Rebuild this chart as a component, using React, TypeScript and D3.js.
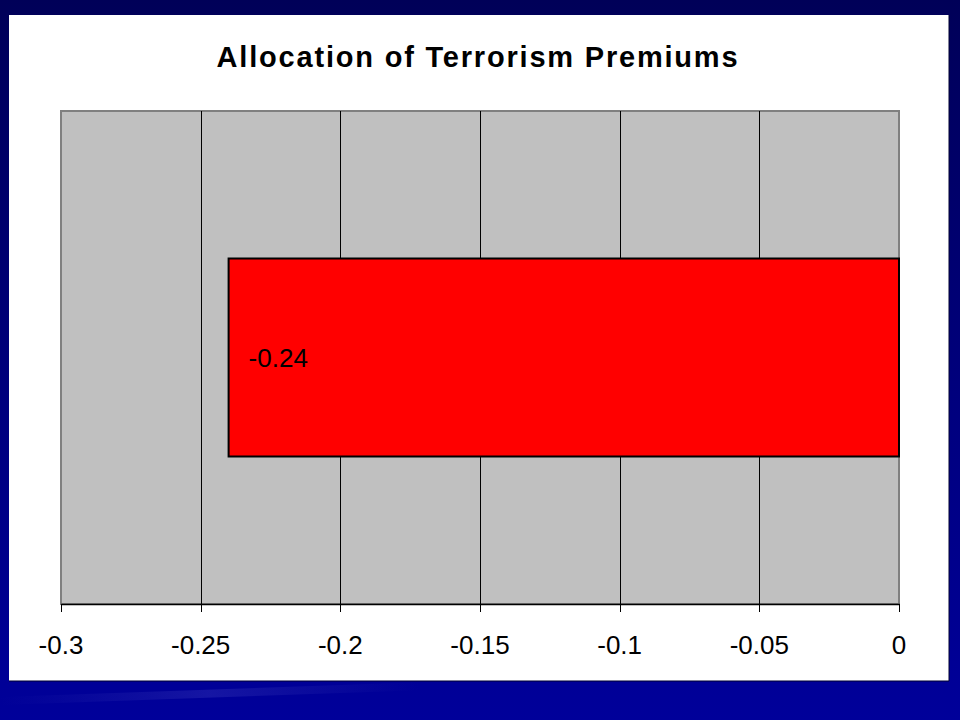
import React from "react";
import * as d3 from "d3";

const categories = ["Terrorism Premiums"];
const values = [-0.24];
const tickValues = [-0.3, -0.25, -0.2, -0.15, -0.1, -0.05, 0];
const tickLabels = ["-0.3", "-0.25", "-0.2", "-0.15", "-0.1", "-0.05", "0"];
const title = "Allocation of Terrorism Premiums";

const W = 960;
const H = 720;
const plot = { left: 61, right: 899, top: 111, bottom: 604 };
const FONT = "'Liberation Sans', Arial, sans-serif";

export default function App() {
  const x = d3.scaleLinear().domain([-0.3, 0]).range([plot.left, plot.right]);
  const y = d3
    .scaleBand<string>()
    .domain(categories)
    .range([plot.top, plot.bottom])
    .paddingInner(0)
    .paddingOuter(0.745);

  return (
    <div style={{ position: "fixed", left: 0, top: 0, width: W, height: H }}>
      <svg width={W} height={H} style={{ display: "block" }}>
        <defs>
          <linearGradient id="bg" x1="0" y1="0" x2="0" y2="1">
            <stop offset="0" stopColor="#000058" />
            <stop offset="0.5" stopColor="#00007a" />
            <stop offset="1" stopColor="#00009a" />
          </linearGradient>
          <linearGradient id="streak" x1="0" y1="0" x2="1" y2="0">
            <stop offset="0" stopColor="#3a3ab0" stopOpacity="0" />
            <stop offset="0.5" stopColor="#4848c0" stopOpacity="0.3" />
            <stop offset="1" stopColor="#3a3ab0" stopOpacity="0" />
          </linearGradient>
        </defs>
        <rect x={0} y={0} width={W} height={H} fill="url(#bg)" />
        <rect x={0} y={690} width={420} height={8} fill="url(#streak)" transform="rotate(-2 200 694)" />
        {/* white panel */}
        <rect x={9} y={15} width={940} height={666} fill="#ffffff" />
        <line x1={9} y1={681} x2={949} y2={681} stroke="#000030" strokeWidth={1} />
        <line x1={949} y1={15} x2={949} y2={681} stroke="#000030" strokeWidth={1} />

        {/* title */}
        <text
          x={478}
          y={67}
          textAnchor="middle"
          fontFamily={FONT}
          fontWeight="bold"
          fontSize={29}
          letterSpacing={1.8}
          fill="#000"
        >
          {title}
        </text>

        {/* plot area */}
        <rect
          x={plot.left}
          y={plot.top}
          width={plot.right - plot.left}
          height={plot.bottom - plot.top}
          fill="#c0c0c0"
          stroke="#808080"
          strokeWidth={2}
        />

        {/* gridlines */}
        {tickValues.slice(1, -1).map((t) => (
          <line
            key={"g" + t}
            x1={Math.round(x(t)) + 0.5}
            x2={Math.round(x(t)) + 0.5}
            y1={plot.top}
            y2={plot.bottom}
            stroke="#000"
            strokeWidth={1}
          />
        ))}

        {/* bars */}
        {categories.map((c, i) => {
          const v = values[i];
          const x0 = x(Math.min(0, v));
          const x1 = x(Math.max(0, v));
          const yy = y(c)!;
          return (
            <g key={c}>
              <rect
                x={x0}
                y={yy}
                width={x1 - x0}
                height={y.bandwidth()}
                fill="#ff0000"
                stroke="#000"
                strokeWidth={2}
              />
              <text
                x={x0 + 20}
                y={yy + y.bandwidth() / 2 + 9}
                fontFamily={FONT}
                fontSize={26}
                fill="#000"
              >
                {v.toFixed(2)}
              </text>
            </g>
          );
        })}

        {/* x axis */}
        <line x1={plot.left} x2={plot.right + 1} y1={plot.bottom + 0.5} y2={plot.bottom + 0.5} stroke="#000" strokeWidth={1.5} />
        {tickValues.map((t, i) => (
          <g key={"t" + t}>
            <line
              x1={Math.round(x(t)) + 0.5}
              x2={Math.round(x(t)) + 0.5}
              y1={plot.bottom}
              y2={plot.bottom + 8}
              stroke="#000"
              strokeWidth={1}
            />
            <text
              x={x(t)}
              y={654}
              textAnchor="middle"
              fontFamily={FONT}
              fontSize={26}
              fill="#000"
            >
              {tickLabels[i]}
            </text>
          </g>
        ))}
      </svg>
    </div>
  );
}
